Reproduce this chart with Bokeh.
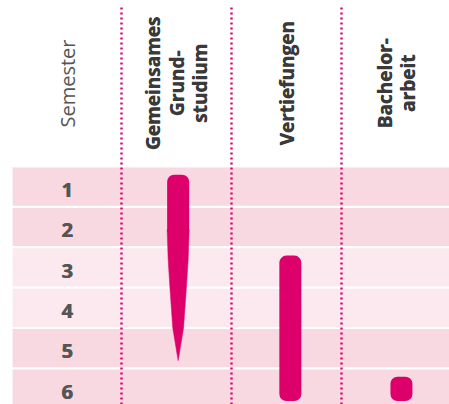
import numpy as np
from bokeh.plotting import figure
from bokeh.models import Range1d
from bokeh.core.properties import value
from bokeh.embed import file_html
from bokeh.resources import INLINE

# ---- data ----
semesters = [1, 2, 3, 4, 5, 6]
semester_title = "Semester"
modules = ["Gemeinsames\nGrund-\nstudium", "Vertiefungen", "Bachelor-\narbeit"]
module_start = [1, 3, 6]      # first semester of module
module_end = [5, 6, 6]        # last semester of module
module_tapered = [True, False, False]

# ---- style ----
MAGENTA = "#dd006b"
ROW_DARK = "#f8d8e1"
ROW_LIGHT = "#fbe9ef"
row_colors = [ROW_DARK, ROW_DARK, ROW_LIGHT, ROW_LIGHT, ROW_DARK, ROW_DARK]
FONT = value("Open Sans")

W, H = 449, 404
p = figure(width=W, height=H, output_backend="svg", toolbar_location=None,
           x_range=Range1d(-0.1, 3.9818), y_range=Range1d(5.866, -4.134),
           min_border=0, outline_line_color=None)
p.axis.visible = False
p.grid.visible = False
p.background_fill_color = "white"
p.border_fill_color = "white"

# row bands
row_gap = 0.055
p.quad(left=[0.01] * len(semesters), right=[4.2] * len(semesters),
       top=[s - 1 for s in semesters], bottom=[s - row_gap for s in semesters],
       fill_color=row_colors, line_color=None)

# dotted column separators
ncol = len(modules)
for c in range(1, ncol + 1):
    p.segment(x0=[c], y0=[-3.96], x1=[c], y1=[6.2], line_color=MAGENTA,
              line_width=2.4, line_dash="2 3")

# semester numbers (drawn twice, slightly offset, for a heavier weight)
for dx in (0, 0.7):
    p.text(x=[0.505] * len(semesters), y=[s - 0.45 for s in semesters],
           text=[str(s) for s in semesters], text_font=FONT, text_font_style="bold",
           text_font_size="20px", text_color="#555555", text_align="center",
           text_baseline="middle", x_offset=dx)

# headers
header_y = -2.08
p.text(x=[0.51], y=[header_y], text=[semester_title], angle=np.pi / 2,
       text_font=FONT, text_font_size="20px", text_color="#555555",
       text_align="center", text_baseline="middle")

line_step = 0.214  # spacing between header lines (x units)
hx, hy, ht = [], [], []
for i, name in enumerate(modules):
    lines = name.split("\n")
    n = len(lines)
    for j, ln in enumerate(lines):
        hx.append(i + 1.5 + (j - (n - 1) / 2) * line_step)
        hy.append(header_y)
        ht.append(ln)
for dy in (0, -0.6):
    p.text(x=hx, y=hy, text=ht, angle=np.pi / 2, text_font=FONT,
           text_font_style="bold", text_font_size="19px", text_color="#3a3a3a",
           text_align="center", text_baseline="middle", y_offset=dy)

# module bars
bar_w = 0.2
pad_top = 0.18
pad_bot = 0.22
x_shift = [0.015, 0.035, 0.045]
straight_len = 1.36
taper_t = [0.0, 0.23, 0.43, 0.75, 1.0]
taper_w = [1.0, 0.91, 0.76, 0.49, 0.0]
for i in range(ncol):
    xc = i + 1.5 + x_shift[i]
    top = module_start[i] - 1 + pad_top
    bot = module_end[i] - pad_bot
    if module_tapered[i]:
        mid = top + straight_len
        p.vbar(x=[xc], width=bar_w, top=[top], bottom=[mid + 0.05],
               fill_color=MAGENTA, line_color=None, border_radius=(7, 7, 0, 0))
        ys = [mid + t * (bot - mid) for t in taper_t]
        xr = [xc + w * bar_w / 2 for w in taper_w]
        xl = [xc - w * bar_w / 2 for w in taper_w]
        p.patch(x=xr + xl[::-1], y=ys + ys[::-1], fill_color=MAGENTA,
                line_color=MAGENTA, line_width=0.5)
    else:
        p.vbar(x=[xc], width=bar_w, top=[top], bottom=[bot],
               fill_color=MAGENTA, line_color=None, border_radius=7)

open("out.html", "w").write(file_html(p, INLINE))
